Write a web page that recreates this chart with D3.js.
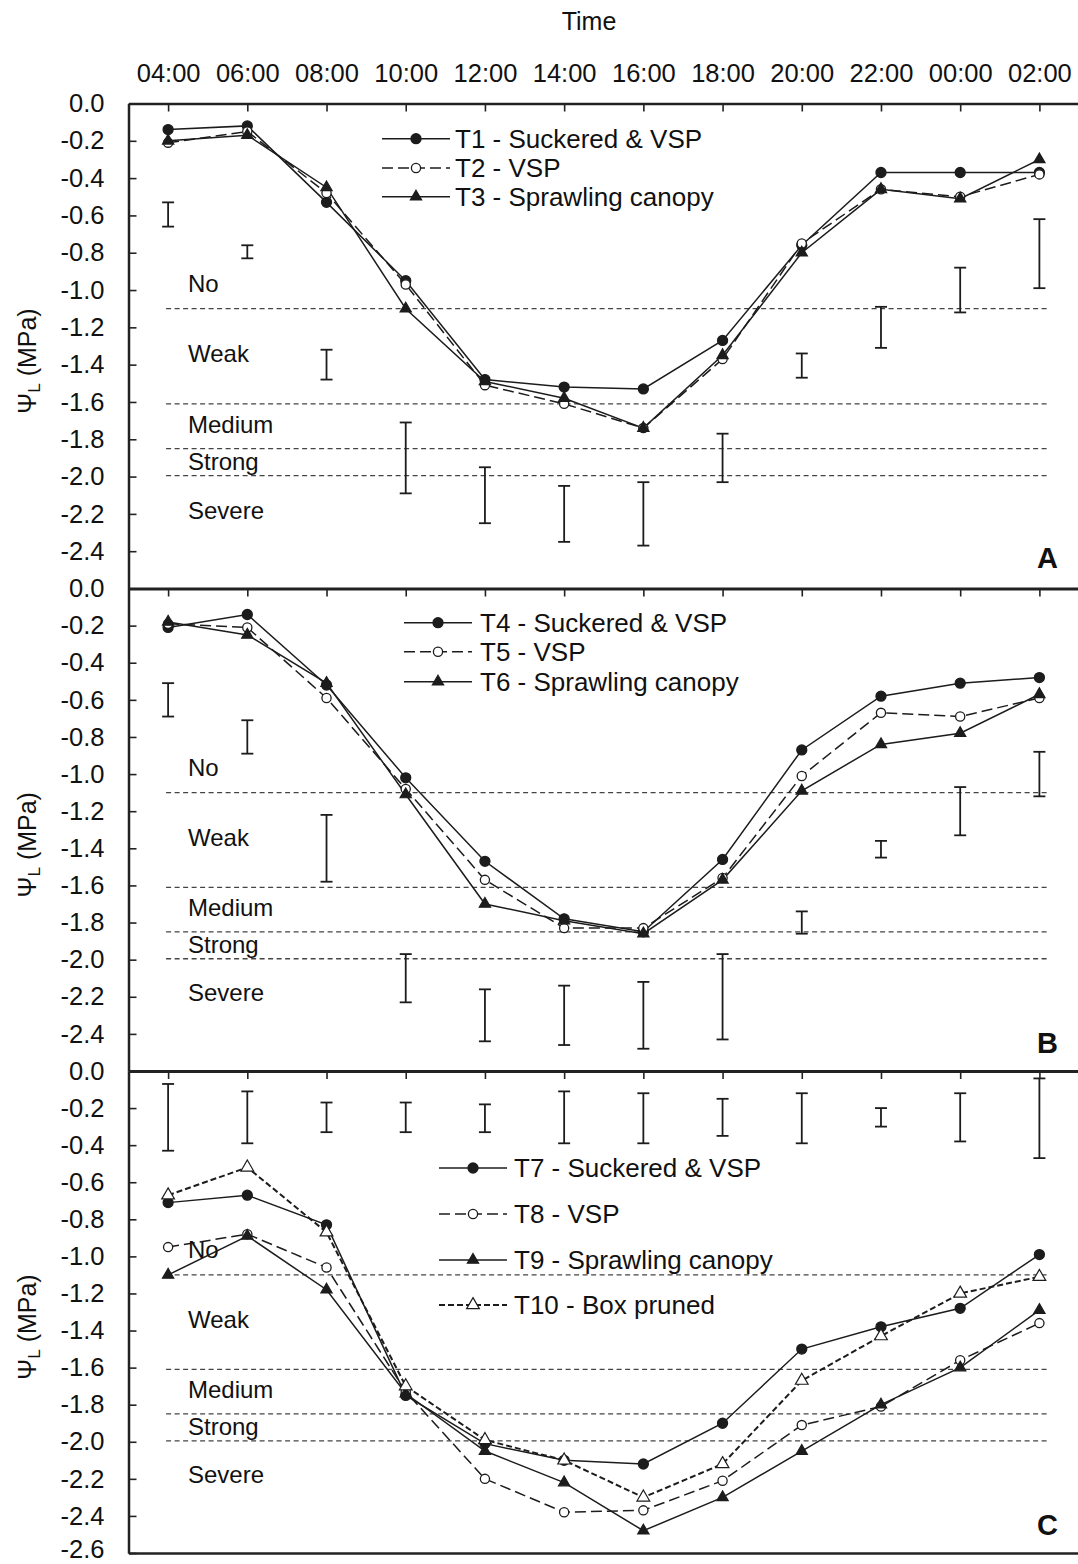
<!DOCTYPE html>
<html><head><meta charset="utf-8">
<script src="https://cdn.jsdelivr.net/npm/d3@7"></script>
<style>
body{margin:0;background:#fff}
svg{display:block}
text{font-family:"Liberation Sans",Arial,Helvetica,sans-serif;fill:#111}
</style>
</head><body>
<svg id="chart" width="1078" height="1564"></svg>
<script>
// ---------- data ----------
const times = ["04:00","06:00","08:00","10:00","12:00","14:00","16:00","18:00","20:00","22:00","00:00","02:00"];
const yTicksAB = [0,-0.2,-0.4,-0.6,-0.8,-1.0,-1.2,-1.4,-1.6,-1.8,-2.0,-2.2,-2.4];
const yTicksC  = [0,-0.2,-0.4,-0.6,-0.8,-1.0,-1.2,-1.4,-1.6,-1.8,-2.0,-2.2,-2.4,-2.6];
const stressThresholds = [-1.1,-1.61,-1.85,-1.995];
const stressClasses = ["No","Weak","Medium","Strong","Severe"];
const stressLabelAt = [-1.01,-1.388,-1.766,-1.963,-2.225];

// Panel A
const T1 = [-0.14,-0.12,-0.53,-0.95,-1.48,-1.52,-1.53,-1.27,-0.76,-0.37,-0.37,-0.37];
const T2 = [-0.21,-0.15,-0.48,-0.97,-1.51,-1.61,-1.74,-1.37,-0.75,-0.46,-0.50,-0.38];
const T3 = [-0.20,-0.17,-0.45,-1.10,-1.49,-1.58,-1.74,-1.35,-0.80,-0.46,-0.51,-0.30];
const barA_hi = [-0.53,-0.76,-1.32,-1.71,-1.95,-2.05,-2.03,-1.77,-1.34,-1.09,-0.88,-0.62];
const barA_lo = [-0.66,-0.83,-1.48,-2.09,-2.25,-2.35,-2.37,-2.03,-1.47,-1.31,-1.12,-0.99];
// Panel B
const T4 = [-0.21,-0.14,-0.52,-1.02,-1.47,-1.78,-1.85,-1.46,-0.87,-0.58,-0.51,-0.48];
const T5 = [-0.19,-0.21,-0.59,-1.08,-1.57,-1.83,-1.83,-1.56,-1.01,-0.67,-0.69,-0.59];
const T6 = [-0.18,-0.25,-0.51,-1.11,-1.70,-1.79,-1.86,-1.57,-1.09,-0.84,-0.78,-0.57];
const barB_hi = [-0.51,-0.71,-1.22,-1.97,-2.16,-2.14,-2.12,-1.97,-1.74,-1.36,-1.07,-0.88];
const barB_lo = [-0.69,-0.89,-1.58,-2.23,-2.44,-2.46,-2.48,-2.43,-1.86,-1.45,-1.33,-1.12];
// Panel C
const T7  = [-0.71,-0.67,-0.83,-1.75,-2.01,-2.10,-2.12,-1.90,-1.50,-1.38,-1.28,-0.99];
const T8  = [-0.95,-0.88,-1.06,-1.73,-2.20,-2.38,-2.37,-2.21,-1.91,-1.81,-1.56,-1.36];
const T9  = [-1.10,-0.89,-1.18,-1.74,-2.05,-2.22,-2.48,-2.30,-2.05,-1.80,-1.60,-1.29];
const T10 = [-0.67,-0.52,-0.87,-1.70,-1.99,-2.10,-2.30,-2.12,-1.67,-1.43,-1.20,-1.11];
const barC_hi = [-0.07,-0.11,-0.17,-0.17,-0.18,-0.11,-0.12,-0.15,-0.12,-0.20,-0.12,-0.04];
const barC_lo = [-0.43,-0.39,-0.33,-0.33,-0.33,-0.39,-0.39,-0.35,-0.39,-0.30,-0.38,-0.47];

// ---------- styles ----------
const INK = "#1c1c1c";
const styles = {
  dot:   {marker:"circle",  fill:INK,   r:5,   dash:null,   sw:1.5},
  open:  {marker:"circle",  fill:"#fff",r:4.6, dash:"11,5", sw:1.5},
  tri:   {marker:"triangle",fill:INK,   size:55, dash:null, sw:1.5},
  otri:  {marker:"triangle",fill:"#fff",size:70, dash:"6,3", sw:2}
};

const panels = [
  {top:103.5, bottom:588.5, yticks:yTicksAB, letter:"A", showTime:true,
   series:[{d:T1,n:"T1 - Suckered & VSP",s:"dot"},{d:T2,n:"T2 - VSP",s:"open"},{d:T3,n:"T3 - Sprawling canopy",s:"tri"}],
   hi:barA_hi, lo:barA_lo,
   leg:{x0:382,x1:450,tx:455,rows:[138.7,168,196.7]}},
  {top:588.5, bottom:1071, yticks:yTicksAB, letter:"B", showTime:false,
   series:[{d:T4,n:"T4 - Suckered & VSP",s:"dot"},{d:T5,n:"T5 - VSP",s:"open"},{d:T6,n:"T6 - Sprawling canopy",s:"tri"}],
   hi:barB_hi, lo:barB_lo,
   leg:{x0:404,x1:472,tx:480,rows:[622.7,651.7,681.7]}},
  {top:1071, bottom:1553, yticks:yTicksC, letter:"C", showTime:false,
   series:[{d:T7,n:"T7 - Suckered & VSP",s:"dot"},{d:T8,n:"T8 - VSP",s:"open"},{d:T9,n:"T9 - Sprawling canopy",s:"tri"},{d:T10,n:"T10 - Box pruned",s:"otri"}],
   hi:barC_hi, lo:barC_lo,
   leg:{x0:439,x1:507,tx:514,rows:[1168,1214,1260,1305]}}
];

const svg = d3.select("#chart");
const XL = 128.5;
const x = d3.scalePoint().domain(times).range([XL, 1079]).padding(0.5);
const fmt = v => Math.abs(v) < 1e-9 ? "0.0" : "-" + Math.abs(v).toFixed(1);

function drawMarker(g, st, cx, cy) {
  if (st.marker === "circle") {
    g.append("circle").attr("cx",cx).attr("cy",cy).attr("r",st.r)
      .attr("fill",st.fill).attr("stroke",INK).attr("stroke-width",1.3);
  } else {
    g.append("path").attr("d", d3.symbol().type(d3.symbolTriangle).size(st.size)())
      .attr("transform",`translate(${cx},${cy})`)
      .attr("fill",st.fill).attr("stroke",INK).attr("stroke-width",1.2);
  }
}

// Time title
svg.append("text").attr("x",589).attr("y",30).attr("text-anchor","middle")
  .style("font-size","25px").text("Time");

panels.forEach((p, pi) => {
  const y = d3.scaleLinear().domain([0,-2.6]).range([p.top,p.bottom]);
  const g = svg.append("g");

  // stress threshold dashed lines
  g.selectAll(".thr").data(stressThresholds).enter().append("line")
    .attr("x1", x(times[0]) - 2).attr("x2", x(times[times.length-1]) + 10)
    .attr("y1", d => y(d)).attr("y2", d => y(d))
    .attr("stroke","#444").attr("stroke-width",1.3).attr("stroke-dasharray","5,3.5");

  // stress class labels
  g.selectAll(".zl").data(stressClasses).enter().append("text")
    .attr("x",188).attr("y",(d,i)=>y(stressLabelAt[i]))
    .style("font-size","24px").text(d=>d);

  // error bars
  const eb = g.append("g").attr("stroke",INK).attr("stroke-width",1.8);
  times.forEach((t,i) => {
    const cx = x(t), y1 = y(p.hi[i]), y2 = y(p.lo[i]);
    eb.append("line").attr("x1",cx).attr("x2",cx).attr("y1",y1).attr("y2",y2);
    eb.append("line").attr("x1",cx-6).attr("x2",cx+6).attr("y1",y1).attr("y2",y1);
    eb.append("line").attr("x1",cx-6).attr("x2",cx+6).attr("y1",y2).attr("y2",y2);
  });

  // series lines
  const line = d3.line().x((d,i)=>x(times[i])).y(d=>y(d));
  p.series.forEach(s => {
    const st = styles[s.s];
    g.append("path").attr("d", line(s.d)).attr("fill","none")
      .attr("stroke",INK).attr("stroke-width",st.sw)
      .attr("stroke-dasharray", st.dash);
  });
  // markers
  p.series.forEach(s => {
    const st = styles[s.s];
    s.d.forEach((v,i) => drawMarker(g, st, x(times[i]), y(v)));
  });

  // legend
  p.series.forEach((s,k) => {
    const st = styles[s.s];
    const ly = p.leg.rows[k];
    g.append("line").attr("x1",p.leg.x0).attr("x2",p.leg.x1).attr("y1",ly).attr("y2",ly)
      .attr("stroke",INK).attr("stroke-width",st.sw).attr("stroke-dasharray",st.dash);
    drawMarker(g, st, (p.leg.x0+p.leg.x1)/2, ly);
    g.append("text").attr("x",p.leg.tx).attr("y",ly+9.3)
      .style("font-size","26px").text(s.n);
  });

  // panel letter
  g.append("text").attr("x",1037).attr("y",p.top+464)
    .style("font-size","29px").style("font-weight","bold").text(p.letter);

  // left axis
  const ga = svg.append("g").attr("transform",`translate(${XL},0)`)
    .call(d3.axisLeft(y).tickValues(p.yticks).tickFormat(fmt).tickSizeInner(-8).tickSizeOuter(0).tickPadding(24));
  ga.attr("font-family",null).attr("font-size",null);
  ga.selectAll("text").style("font-size","25.5px").attr("fill","#111");
  // keep the lowest label of the last panel inside the picture
  if (pi === panels.length-1) {
    ga.selectAll(".tick").filter(d => Math.abs(d + 2.6) < 1e-9).select("text").attr("dy","0.18em");
  }
  ga.select(".domain").attr("stroke","#222").attr("stroke-width",2.5);
  ga.selectAll(".tick line").attr("stroke","#222").attr("stroke-width",1.6);

  // top axis
  const gt = svg.append("g").attr("transform",`translate(0,${p.top})`)
    .call(d3.axisTop(x).tickSizeInner(-8).tickSizeOuter(0).tickPadding(22)
      .tickFormat(p.showTime ? (d=>d) : (()=>"")));
  gt.attr("font-family",null).attr("font-size",null);
  gt.selectAll("text").style("font-size","25.5px").attr("fill","#111");
  gt.select(".domain").attr("stroke","#222").attr("stroke-width", p.showTime ? 2.5 : 3.2);
  gt.selectAll(".tick line").attr("stroke","#222").attr("stroke-width",1.6);

  // y-axis title
  const tt = svg.append("text")
    .attr("transform",`translate(36,${(p.top+p.bottom)/2+15}) rotate(-90)`)
    .attr("text-anchor","middle").style("font-size","25px");
  tt.append("tspan").text("\u03A8");
  tt.append("tspan").attr("dy",4).style("font-size","17px").text("L");
  tt.append("tspan").attr("dy",-4).text(" (MPa)");
});

// bottom axis of the last panel
const last = panels[panels.length-1];
const gb = svg.append("g").attr("transform",`translate(0,${last.bottom})`)
  .call(d3.axisBottom(x).tickValues([]).tickSizeOuter(0));
gb.select(".domain").attr("stroke","#222").attr("stroke-width",2.5);
</script>
</body></html>
